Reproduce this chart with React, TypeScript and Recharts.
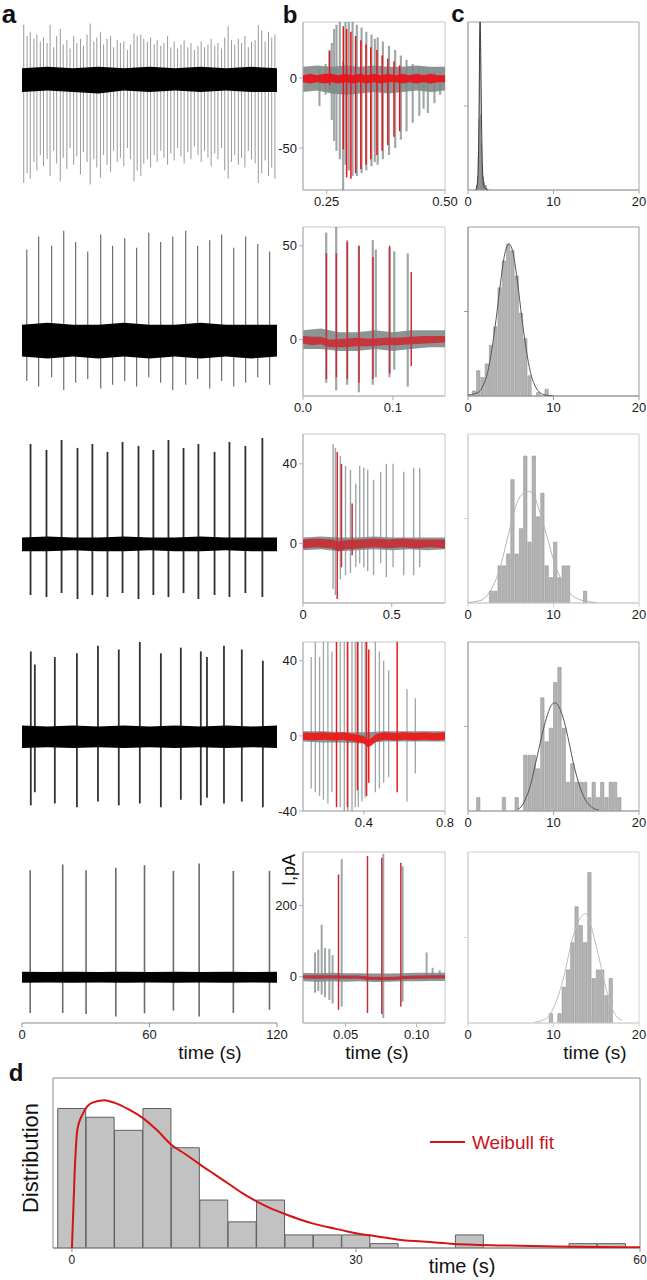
import React from 'react';
import { ComposedChart, XAxis, YAxis, Bar, Area, Line, ReferenceArea } from 'recharts';

const FONT = '"Liberation Sans", Arial, Helvetica, sans-serif';

// ---------- panel a: whole recordings, spikes as [time s, trough, peak] ----------
const A1_SPIKES = [
  [0.8, -75, 38], [2.4, -68, 30], [3.9, -72, 33], [5.6, -60, 28], [7.0, -66, 31], [8.6, -55, 26],
  [10.1, -63, 29], [11.8, -58, 25], [13.2, -70, 38], [14.9, -52, 22], [16.3, -61, 30], [18.0, -74, 35],
  [19.4, -57, 24], [21.1, -65, 27], [22.6, -50, 21], [24.3, -62, 30], [25.8, -56, 25], [27.5, -69, 28],
  [28.9, -53, 23], [30.6, -60, 31], [32.1, -76, 39], [33.8, -58, 26], [35.2, -64, 29], [36.9, -71, 33],
  [38.4, -55, 24], [40.0, -62, 28], [41.7, -67, 30], [43.1, -52, 22], [44.8, -60, 27], [46.3, -57, 25],
  [47.9, -63, 26], [49.6, -50, 20], [51.0, -58, 24], [52.7, -74, 32], [54.2, -66, 30], [55.9, -70, 31],
  [57.3, -61, 28], [59.0, -58, 26], [60.5, -64, 29], [62.2, -55, 24], [63.6, -60, 27], [65.3, -52, 23],
  [66.8, -57, 25], [68.5, -62, 30], [70.0, -54, 22], [71.6, -59, 26], [73.2, -50, 21], [74.8, -56, 24],
  [76.3, -61, 27], [78.0, -53, 22], [79.5, -58, 25], [81.1, -49, 20], [82.8, -55, 23], [84.3, -60, 26],
  [85.9, -52, 22], [87.5, -57, 24], [89.0, -63, 28], [90.7, -54, 23], [92.2, -58, 25], [93.9, -50, 21],
  [95.4, -66, 29], [97.0, -72, 37], [98.6, -60, 27], [100.1, -55, 24], [101.8, -62, 28], [103.3, -57, 25],
  [104.9, -64, 30], [106.5, -52, 22], [108.0, -58, 26], [109.7, -61, 27], [111.2, -75, 38], [112.8, -68, 34],
  [114.4, -59, 26], [116.0, -70, 33], [117.5, -64, 29], [119.0, -72, 31],
];
const A2_SPIKES = [
  [2.4, -22, 48], [8.0, -25, 55], [14.1, -20, 50], [19.8, -27, 58], [25.4, -23, 52], [31.1, -21, 47],
  [37.2, -26, 56], [42.8, -24, 50], [48.5, -22, 54], [54.1, -25, 49], [59.8, -20, 57], [65.4, -23, 52],
  [71.1, -27, 55], [77.2, -24, 58], [82.8, -21, 50], [88.5, -26, 53], [94.1, -22, 56], [99.8, -25, 49],
  [105.4, -23, 55], [111.1, -20, 51], [116.7, -24, 47],
];
const A3_SPIKES = [
  [3.8, -26, 50], [11.3, -27, 47], [18.4, -25, 52], [25.9, -28, 48], [32.9, -26, 50], [40.0, -27, 46],
  [47.1, -25, 51], [54.6, -28, 49], [61.6, -26, 47], [68.7, -27, 52], [75.8, -25, 48], [82.8, -28, 50],
  [90.4, -26, 46], [97.4, -27, 51], [104.9, -25, 49], [112.9, -27, 53],
];
const A4_SPIKES = [
  [4.2, -37, 45], [6.1, -30, 38], [15.5, -36, 42], [25.9, -38, 44], [35.8, -35, 48], [45.6, -37, 46],
  [55.5, -36, 50], [65.4, -38, 44], [74.8, -34, 47], [84.2, -37, 45], [87.1, -33, 42], [95.1, -36, 48],
  [103.5, -35, 46], [113.4, -38, 40],
];
const A5_SPIKES = [
  [3.8, -102, 299], [19.1, -102, 315], [30.1, -105, 299], [44.1, -112, 306], [57.6, -103, 313],
  [71.2, -95, 297], [83.3, -112, 318], [99.4, -102, 297], [116.4, -93, 297],
];
// baseline noise envelope: [time s, low, high]
const A1_BAND = [[0, -10, 7], [12, -9, 8], [24, -10, 7], [36, -11, 8], [48, -9, 7], [60, -10, 8], [72, -9, 7], [84, -10, 8], [96, -9, 7], [108, -10, 8], [120, -10, 7]];
const A2_BAND = [[0, -9, 8], [12, -10, 9], [24, -9, 8], [36, -10, 8], [48, -9, 9], [60, -10, 8], [72, -9, 8], [84, -10, 9], [96, -9, 8], [108, -10, 8], [120, -9, 8]];
const A3_BAND = [[0, -4, 3], [12, -4, 3.5], [24, -3.5, 3], [36, -4, 3], [48, -4, 3.5], [60, -3.5, 3], [72, -4, 3], [84, -4, 3.5], [96, -3.5, 3], [108, -4, 3], [120, -4, 3]];
const A4_BAND = [[0, -6.5, 5.5], [12, -6, 5], [24, -6.5, 5.5], [36, -6, 5], [48, -6.5, 5.5], [60, -6, 5], [72, -6.5, 5.5], [84, -6, 5], [96, -6.5, 5.5], [108, -6, 5], [120, -6.5, 5.5]];
const A5_BAND = [[0, -17, 14], [12, -16, 13], [24, -17, 14], [36, -16, 13], [48, -17, 14], [60, -16, 13], [72, -17, 14], [84, -16, 13], [96, -17, 14], [108, -16, 13], [120, -17, 14]];
const A_XTICKS = [0, 60, 120];
const A_XLABELS = ['0', '60', '120'];

// ---------- panel b: overlaid bursts (gray = all, red = one) ----------
const B1_GRAY_SPIKES = [
  [0.235, -20, 6], [0.248, -12, 10], [0.256, -10, 20], [0.261, -30, 25], [0.266, -45, 35], [0.271, -52, 38],
  [0.278, -58, 40], [0.285, -80, 12], [0.29, -62, 40], [0.297, -66, 40], [0.305, -70, 40], [0.314, -70, 38],
  [0.324, -68, 36], [0.334, -66, 33], [0.345, -63, 31], [0.352, -60, 28], [0.358, -62, 29], [0.369, -58, 26],
  [0.382, -55, 23], [0.395, -50, 20], [0.407, -44, 16], [0.419, -38, 13], [0.432, -32, 10], [0.446, -27, 8],
  [0.455, -22, 7], [0.464, -25, 6], [0.478, -18, 5], [0.49, -12, 4],
];
const B1_RED_SPIKES = [
  [0.256, -5, 19], [0.285, -51, 37], [0.292, -71, 35], [0.301, -72, 33], [0.311, -68, 30], [0.322, -65, 27],
  [0.333, -62, 24], [0.343, -58, 22], [0.356, -55, 20], [0.367, -52, 16], [0.379, -48, 14], [0.392, -42, 12],
  [0.404, -38, 9],
];
const B2_GRAY_SPIKES = [
  [0.0263, -23, 57], [0.0374, -27, 60], [0.0496, -24, 53], [0.0626, -28, 50], [0.0781, -24, 53],
  [0.0815, -20, 48], [0.0967, -20, 49], [0.102, -16, 47], [0.117, -25, 46],
];
const B2_RED_SPIKES = [
  [0.0263, -21, 46], [0.0374, -20, 46], [0.0496, -21, 52], [0.0626, -23, 50], [0.0781, -21, 44],
  [0.0967, -18, 50], [0.1207, -14, 36],
];
const B3_GRAY_SPIKES = [
  [0.172, -23, 50], [0.185, -26, 48], [0.213, -18, 44], [0.242, -16, 39], [0.27, -15, 37], [0.3, -12, 30],
  [0.322, -10, 39], [0.345, -12, 38], [0.367, -14, 37], [0.4, -16, 32], [0.44, -10, 36], [0.472, -17, 40],
  [0.51, -12, 40], [0.57, -16, 36], [0.626, -16, 38], [0.66, -12, 38],
];
const B3_RED_SPIKES = [[0.195, -28, 46], [0.219, -12, 40], [0.279, -6, 20]];
const B4_GRAY_SPIKES = [
  [0.14, -28, 42], [0.16, -30, 50], [0.181, -32, 42], [0.2, -34, 50], [0.222, -36, 50], [0.242, -30, 45],
  [0.283, -38, 50], [0.303, -40, 50], [0.32, -40, 50], [0.341, -40, 50], [0.357, -38, 50], [0.372, -38, 50],
  [0.39, -35, 50], [0.406, -33, 50], [0.456, -30, 50], [0.476, -28, 45], [0.497, -25, 40], [0.522, -22, 35],
  [0.612, -35, 25], [0.653, -20, 20],
];
const B4_RED_SPIKES = [[0.267, -38, 50], [0.321, -38, 50], [0.37, -29, 50], [0.415, -32, 50], [0.426, -25, 46], [0.566, -30, 50]];
const B5_GRAY_SPIKES = [
  [0.0282, -45, 68], [0.0305, -40, 76], [0.0329, -50, 146], [0.0352, -58, 80], [0.0383, -65, 78],
  [0.0406, -75, 60], [0.047, -84, 330], [0.0763, -116, 345], [0.0899, -70, 310], [0.1068, -10, 68],
  [0.111, -8, 25], [0.116, -6, 18],
];
const B5_RED_SPIKES = [[0.0453, -93, 287], [0.0657, -102, 339], [0.0758, -105, 334], [0.0892, -84, 320]];

const B1_GRAY_BAND = [[0.2, -10, 8], [0.23, -9, 9], [0.26, -11, 8], [0.29, -12, 9], [0.32, -11, 8], [0.35, -10, 9], [0.38, -11, 8], [0.41, -10, 8], [0.44, -9, 9], [0.47, -10, 8], [0.5, -9, 8]];
const B1_RED_BAND = [[0.2, -3, 2], [0.215, -4, 3], [0.23, -3, 2], [0.245, -4, 3], [0.26, -3, 3], [0.275, -4, 2], [0.29, -3, 3], [0.305, -4, 2], [0.32, -3, 3], [0.335, -4, 2], [0.35, -3, 3], [0.365, -4, 2], [0.38, -3, 3], [0.395, -3, 2], [0.41, -4, 3], [0.425, -3, 2], [0.44, -4, 3], [0.455, -3, 2], [0.47, -4, 3], [0.485, -3, 2], [0.5, -3, 2]];
const B2_GRAY_BAND = [[0, -5, 5], [0.02, -5, 6], [0.04, -6, 4], [0.06, -6, 4], [0.08, -5, 5], [0.1, -6, 4], [0.12, -5, 5], [0.14, -4, 5], [0.158, -4, 5]];
const B2_RED_BAND = [[0, -2, 2], [0.01, -3, 1.5], [0.02, -2.5, 1.5], [0.03, -4, 0], [0.045, -4, 0.5], [0.06, -3.5, 1], [0.075, -3.5, 0.5], [0.09, -3, 1], [0.105, -3, 1], [0.12, -2.5, 1.5], [0.135, -2, 2], [0.158, -1.5, 2]];
const B3_GRAY_BAND = [[0, -3.5, 3], [0.1, -3, 3.5], [0.2, -4, 3], [0.3, -3.5, 3], [0.4, -3, 3.5], [0.5, -3.5, 3], [0.6, -3, 3], [0.7, -3.5, 3], [0.8, -3, 3]];
const B3_RED_BAND = [[0, -2.5, 2], [0.08, -2, 2.5], [0.16, -2.5, 2], [0.2, -4, 1], [0.24, -3, 1.5], [0.32, -2.5, 2], [0.4, -2, 2.5], [0.48, -2.5, 2], [0.56, -2, 2.5], [0.64, -2.5, 2], [0.72, -2, 2], [0.8, -2.5, 2]];
const B4_GRAY_BAND = [[0.1, -3, 2.5], [0.2, -3.5, 2.5], [0.3, -3.5, 2], [0.4, -4, 2], [0.5, -3, 2.5], [0.6, -3, 2.5], [0.7, -3, 2.5], [0.8, -3, 2.5]];
const B4_RED_BAND = [[0.1, -2, 2], [0.15, -2.5, 1.5], [0.2, -2, 2], [0.25, -2.5, 1.5], [0.3, -2, 2], [0.35, -3, 1], [0.4, -4, 0], [0.42, -6, -2], [0.44, -5, -1], [0.46, -3, 1], [0.5, -2, 2], [0.55, -2.5, 1.5], [0.6, -2, 2], [0.65, -2.5, 1.5], [0.7, -2, 2], [0.75, -2.5, 1.5], [0.8, -2, 2]];
const B5_GRAY_BAND = [[0.02, -13, 11], [0.03, -14, 10], [0.04, -13, 11], [0.05, -14, 10], [0.06, -13, 10], [0.07, -15, 9], [0.08, -14, 9], [0.09, -13, 10], [0.1, -13, 11], [0.11, -12, 11], [0.12, -12, 11]];
const B5_RED_BAND = [[0.02, -5, 4], [0.03, -6, 4], [0.04, -5, 4], [0.05, -6, 3], [0.06, -6, 3], [0.067, -9, 0], [0.075, -10, -1], [0.085, -9, 0], [0.09, -7, 2], [0.1, -6, 3], [0.11, -5, 4], [0.12, -5, 4]];

const B_XTICKS = [[0.25, 0.5], [0, 0.1], [0, 0.5], [0.4, 0.8], [0.05, 0.1]];
const B_XLABELS = [['0.25', '0.50'], ['0.0', '0.1'], ['0', '0.5'], ['0.4', '0.8'], ['0.05', '0.10']];
const B_YTICKS = [[-50, 0], [0, 50], [0, 40], [-40, 0, 40], [0, 200]];
const B_YLABELS = [['-50', '0'], ['0', '50'], ['0', '40'], ['-40', '0', '40'], ['0', '200']];

// ---------- panel c: interval histograms [bin centre s, % of panel height] ----------
const C1_BINS = [[1.0, 3], [1.1, 8], [1.2, 20], [1.3, 42], [1.4, 100], [1.5, 45], [1.6, 28], [1.7, 15], [1.8, 8], [1.9, 5], [2.0, 3], [2.1, 3], [2.2, 2]];
const C2_BINS = [[0.75, 3], [1.25, 15], [1.75, 11], [2.25, 19], [2.75, 30], [3.25, 41], [3.75, 64], [4.25, 80], [4.75, 90], [5.25, 86], [5.75, 71], [6.25, 49], [6.75, 34], [7.25, 12], [8.25, 2], [9.25, 4]];
const C3_BINS = [[2.75, 7], [3.25, 7], [3.75, 22], [4.25, 22], [4.75, 29], [5.25, 73], [5.75, 29], [6.25, 44], [6.75, 87], [7.25, 36], [7.75, 87], [8.25, 51], [8.75, 65], [9.25, 22], [9.75, 15], [10.25, 36], [10.75, 15], [11.25, 22], [11.75, 22], [13.75, 7]];
const C4_BINS = [[1.25, 8], [4.25, 8], [5.75, 8], [6.75, 33], [7.25, 33], [7.75, 33], [8.25, 25], [8.75, 67], [9.25, 41], [9.75, 49], [10.25, 76], [10.75, 85], [11.25, 49], [11.75, 17], [12.25, 28], [12.75, 17], [13.25, 17], [13.75, 17], [14.25, 8], [14.75, 17], [15.25, 8], [15.75, 17], [16.25, 8], [16.75, 17], [17.25, 17], [17.75, 8]];
const C5_BINS = [[9.75, 5.5], [10.75, 5.5], [11.25, 21], [11.75, 31], [12.25, 47], [12.75, 68], [13.25, 57], [13.75, 47], [14.25, 88], [14.75, 26], [15.25, 31], [15.75, 31], [16.25, 16], [16.75, 26]];
// fitted curves [s, % of panel height]
const C1_FIT = [[0.9, 0], [1.1, 4], [1.2, 15], [1.3, 50], [1.38, 95], [1.43, 100], [1.5, 75], [1.6, 35], [1.7, 12], [1.8, 4], [2.0, 1], [2.4, 0]];
const C2_FIT = [[0, 0.5], [0.8, 1.4], [1.3, 2.5], [1.8, 6.5], [2.3, 14], [2.8, 28], [3.3, 46], [3.8, 67], [4.3, 84], [4.8, 90], [5.3, 84], [5.8, 67], [6.3, 46], [6.8, 28], [7.3, 14], [7.8, 6.5], [8.3, 2.5], [8.8, 0.9], [10, 0]];
const C3_FIT = [[0, 0.2], [1, 1], [1.7, 2], [2.7, 8], [3.7, 20], [4.7, 40], [5.7, 59], [6.5, 65], [7.1, 66], [7.7, 64], [8.2, 57], [9.2, 40], [10.1, 24], [11.2, 11], [12.6, 3], [14.5, 0.5], [15, 0.3]];
const C4_FIT = [[5.8, 1], [6.3, 3], [6.8, 8], [7.3, 15], [7.8, 26], [8.3, 37], [8.8, 48], [9.3, 57], [9.8, 63], [10.2, 64], [10.7, 61], [11.25, 53], [11.8, 41], [12.3, 29], [12.8, 19], [13.25, 12], [13.8, 6], [14.3, 3], [15.3, 0.5]];
const C5_FIT = [[7.8, 0.5], [9.1, 2.5], [10.2, 11], [11.2, 27], [12.2, 49], [12.8, 58], [13.4, 63], [13.8, 64], [14.1, 61], [15.1, 43], [16.1, 21], [17.1, 6], [18, 1.5]];
const C_XTICKS = [0, 10, 20];
const C_XLABELS = ['0', '10', '20'];

// ---------- panel d: pooled intervals [bin centre s, count] + Weibull fit ----------
const D_BINS = [[0, 32], [3, 30], [6, 27], [9, 32], [12, 23], [15, 11], [18, 6], [21, 11], [24, 3], [27, 3], [30, 3], [33, 1], [42, 3], [54, 1], [57, 1]];
const D_FIT = [
  [0, 0], [0.3, 18], [0.56, 27], [1.2, 31], [2.1, 33.3], [3.4, 33.9], [4.5, 33.3], [6, 31.8], [7.5, 29.8],
  [9, 27], [10.5, 23.7], [12, 21.5], [13.5, 19.2], [15, 17], [16.5, 14.8], [18, 12.6], [19.5, 10.7], [21, 9.1],
  [22.5, 7.8], [24, 6.6], [25.5, 5.6], [27, 4.8], [28.5, 4.1], [30, 3.4], [31.5, 2.9], [33, 2.4], [34.5, 1.9],
  [37, 1.5], [40, 1.0], [45, 0.6], [50, 0.4], [55, 0.25], [60, 0.15],
];
const D_XTICKS = [0, 30, 60];
const D_XLABELS = ['0', '30', '60'];

// ---------- layout ----------
const COL_A = { x: 22, w: 255 };
const COL_B = { x: 303, w: 142 };
const COL_C = { x: 468, w: 171 };
const ROW_Y = [22, 227, 434, 642, 852];
const ROW_H = [168, 169, 169, 169, 171];
const ROW_YD = [[-80, 40], [-30, 60], [-30, 55], [-40, 50], [-130, 350]];
const B_XD = [[0.2, 0.5], [0, 0.158], [0, 0.8], [0.1, 0.8], [0.02, 0.12]];

type Box = { x: number; y: number; w: number; h: number };
const cell = (col: { x: number; w: number }, r: number): Box => ({ x: col.x, y: ROW_Y[r], w: col.w, h: ROW_H[r] });

const asRange = (rows: number[][]) => rows.map(([t, lo, hi]) => ({ t, r: [lo, hi] }));
const asPoints = (rows: number[][]) => rows.map(([t, y]) => ({ t, y }));

const tickStyle = { fontSize: 13, fill: '#1a1a1a', fontFamily: FONT };

// chart with visible axes / border; plot area lands exactly on box
function Frame({ box, xd, yd, data, xTicks, xLabels, yTicks, yLabels, border, axis = '#9a9a9a', tick = tickStyle, children }: any) {
  const YW = 44, XH = 30, PAD = 4, RP = 24;
  const showX = !!xTicks;
  const showY = !!yTicks;
  return (
    <div style={{ position: 'absolute', left: box.x - YW, top: box.y - PAD }}>
      <ComposedChart
        width={box.w + YW + RP}
        height={box.h + XH + PAD}
        data={data}
        margin={{ top: PAD, right: RP, bottom: showX ? 0 : XH, left: showY ? 0 : YW }}
      >
        <XAxis dataKey="t" type="number" domain={xd} allowDataOverflow hide={!showX} height={XH}
          ticks={xTicks} interval={0} tickFormatter={(v: number, i: number) => (xLabels ? xLabels[i] : String(v))}
          tick={tick} tickSize={4} tickMargin={3} stroke={axis} />
        <YAxis type="number" domain={yd} allowDataOverflow hide={!showY} width={YW}
          ticks={yTicks} interval={0} tickFormatter={(v: number, i: number) => (yLabels ? yLabels[i] : String(v))}
          tick={tick} tickSize={4} tickMargin={2} stroke={axis} />
        {border && (
          <ReferenceArea x1={xd[0]} x2={xd[1]} y1={yd[0]} y2={yd[1]} fill="none" fillOpacity={0} stroke={border} strokeWidth={1} ifOverflow="visible" />
        )}
        {children}
      </ComposedChart>
    </div>
  );
}

// chart with hidden axes laid over the same box
function Overlay({ box, xd, yd, data, children }: any) {
  return (
    <div style={{ position: 'absolute', left: box.x, top: box.y }}>
      <ComposedChart width={box.w} height={box.h} data={data} margin={{ top: 0, right: 0, bottom: 0, left: 0 }}>
        <XAxis dataKey="t" type="number" domain={xd} allowDataOverflow hide />
        <YAxis type="number" domain={yd} allowDataOverflow hide />
        {children}
      </ComposedChart>
    </div>
  );
}

function Txt({ x, y, size, children, color = '#111', bold = false, rotate = false }: any) {
  return (
    <div style={{
      position: 'absolute', left: x, top: y, transform: `translate(-50%, -50%)${rotate ? ' rotate(-90deg)' : ''}`,
      fontSize: size, fontWeight: bold ? 700 : 400, color, lineHeight: 1, whiteSpace: 'nowrap', fontFamily: FONT,
    }}>{children}</div>
  );
}

const A_SPIKES = [A1_SPIKES, A2_SPIKES, A3_SPIKES, A4_SPIKES, A5_SPIKES];
const A_BANDS = [A1_BAND, A2_BAND, A3_BAND, A4_BAND, A5_BAND];
const B_GRAY_SPIKES = [B1_GRAY_SPIKES, B2_GRAY_SPIKES, B3_GRAY_SPIKES, B4_GRAY_SPIKES, B5_GRAY_SPIKES];
const B_RED_SPIKES = [B1_RED_SPIKES, B2_RED_SPIKES, B3_RED_SPIKES, B4_RED_SPIKES, B5_RED_SPIKES];
const B_GRAY_BANDS = [B1_GRAY_BAND, B2_GRAY_BAND, B3_GRAY_BAND, B4_GRAY_BAND, B5_GRAY_BAND];
const B_RED_BANDS = [B1_RED_BAND, B2_RED_BAND, B3_RED_BAND, B4_RED_BAND, B5_RED_BAND];
const C_BINS = [C1_BINS, C2_BINS, C3_BINS, C4_BINS, C5_BINS];
const C_FITS = [C1_FIT, C2_FIT, C3_FIT, C4_FIT, C5_FIT];

// styles per row
const A_SPIKE_COLOR = ['#9a9a9a', '#6e6e6e', '#2e2e2e', '#333333', '#6a6a6a'];
const A_SPIKE_W = [1, 1.2, 1.8, 1.8, 1.6];
const B_RED = ['#e8141c', '#c8303a', '#c43038', '#ec1a1a', '#c0303a'];
const B_GRAY_W = [2.5, 2.2, 1.4, 1.3, 2];
const C_BORDER = ['#a6a6a6', '#999999', '#cfcfcf', '#a6a6a6', '#d2d2d2'];
const C_FIT_COLOR = ['#3c3c3c', '#555555', '#b4b4b4', '#555555', '#bdbdbd'];

export default function App() {
  return (
    <div style={{ position: 'absolute', left: 0, top: 0, width: 647, height: 1280, background: '#fff', overflow: 'hidden', fontFamily: FONT }}>
      {ROW_Y.map((_, r) => {
        const a = cell(COL_A, r);
        const b = cell(COL_B, r);
        const c = cell(COL_C, r);
        const yd = ROW_YD[r];
        return (
          <React.Fragment key={r}>
            {/* a: raw trace */}
            <Frame box={a} xd={[0, 120]} yd={yd} data={asRange(A_SPIKES[r])}
              xTicks={r === 4 ? A_XTICKS : undefined} xLabels={A_XLABELS} axis="#8c8c8c">
              <Bar dataKey="r" barSize={A_SPIKE_W[r]} fill={A_SPIKE_COLOR[r]} isAnimationActive={false} />
            </Frame>
            <Overlay box={a} xd={[0, 120]} yd={yd} data={asRange(A_BANDS[r])}>
              <Area dataKey="r" type="linear" fill="#000" fillOpacity={1} stroke="none" dot={false} activeDot={false} isAnimationActive={false} />
            </Overlay>

            {/* b: overlaid bursts */}
            <Frame box={b} xd={B_XD[r]} yd={yd} data={asRange(B_GRAY_BANDS[r])}
              xTicks={B_XTICKS[r]} xLabels={B_XLABELS[r]} yTicks={B_YTICKS[r]} yLabels={B_YLABELS[r]}
              border="#c6c6c6" axis="#b0b0b0">
              <Area dataKey="r" type="linear" fill="#7f8888" fillOpacity={0.9} stroke="none" dot={false} activeDot={false} isAnimationActive={false} />
            </Frame>
            <Overlay box={b} xd={B_XD[r]} yd={yd} data={asRange(B_GRAY_SPIKES[r])}>
              <Bar dataKey="r" barSize={B_GRAY_W[r]} fill="#7f8888" fillOpacity={0.75} isAnimationActive={false} />
            </Overlay>
            <Overlay box={b} xd={B_XD[r]} yd={yd} data={asRange(B_RED_BANDS[r])}>
              <Area dataKey="r" type="linear" fill={B_RED[r]} fillOpacity={0.95} stroke="none" dot={false} activeDot={false} isAnimationActive={false} />
            </Overlay>
            <Overlay box={b} xd={B_XD[r]} yd={yd} data={asRange(B_RED_SPIKES[r])}>
              <Bar dataKey="r" barSize={1.5} fill={B_RED[r]} isAnimationActive={false} />
            </Overlay>

            {/* c: interval histogram */}
            <Frame box={c} xd={[0, 20]} yd={[0, 100]} data={C_BINS[r].map(([t, n]) => ({ t, n }))}
              xTicks={C_XTICKS} xLabels={C_XLABELS} yTicks={[50]} yLabels={['']}
              border={C_BORDER[r]} axis={C_BORDER[r]}>
              <Bar dataKey="n" barSize={r === 0 ? 1 : 3.4} fill={r === 0 ? '#6a6a6a' : '#b3b3b3'}
                stroke={r === 0 ? 'none' : '#8a8a8a'} strokeWidth={0.5} isAnimationActive={false} />
            </Frame>
            <Overlay box={c} xd={[0, 20]} yd={[0, 100]} data={asPoints(C_FITS[r])}>
              <Line dataKey="y" type="monotone" stroke={C_FIT_COLOR[r]} strokeWidth={1} dot={false} activeDot={false} isAnimationActive={false} />
            </Overlay>
          </React.Fragment>
        );
      })}

      {/* d: pooled histogram with Weibull fit */}
      <Frame box={{ x: 53, y: 1078, w: 587, h: 170 }} xd={[-2, 60]} yd={[0, 39]}
        data={D_BINS.map(([t, n]) => ({ t, n }))} xTicks={D_XTICKS} xLabels={D_XLABELS}
        border="#8a8a8a" axis="#8a8a8a"
        tick={{ fontSize: 12, fill: '#1a1a1a', fontFamily: '"Liberation Sans Narrow", ' + FONT }}>
        <Bar dataKey="n" barSize={28} fill="#c2c2c2" stroke="#5e5e5e" strokeWidth={1} isAnimationActive={false} />
      </Frame>
      <Overlay box={{ x: 53, y: 1078, w: 587, h: 170 }} xd={[-2, 60]} yd={[0, 39]} data={asPoints(D_FIT)}>
        <Line dataKey="y" type="monotone" stroke="#d41414" strokeWidth={2} dot={false} activeDot={false} isAnimationActive={false} />
      </Overlay>
      <div style={{ position: 'absolute', left: 430, top: 1141, width: 35, height: 2, background: '#d41414' }} />
      <Txt x={513} y={1142} size={19} color="#c8141c">Weibull fit</Txt>

      {/* panel letters and axis titles */}
      <Txt x={9} y={14} size={26} bold>a</Txt>
      <Txt x={290} y={15} size={24} bold>b</Txt>
      <Txt x={458} y={14} size={24} bold>c</Txt>
      <Txt x={16} y={1073} size={24} bold>d</Txt>
      <Txt x={289} y={870} size={18} rotate>I,pA</Txt>
      <Txt x={210} y={1052} size={19}>time (s)</Txt>
      <Txt x={377} y={1052} size={19}>time (s)</Txt>
      <Txt x={595} y={1052} size={19}>time (s)</Txt>
      <Txt x={462} y={1266} size={20}>time (s)</Txt>
      <Txt x={31} y={1158} size={22} rotate>Distribution</Txt>
    </div>
  );
}
